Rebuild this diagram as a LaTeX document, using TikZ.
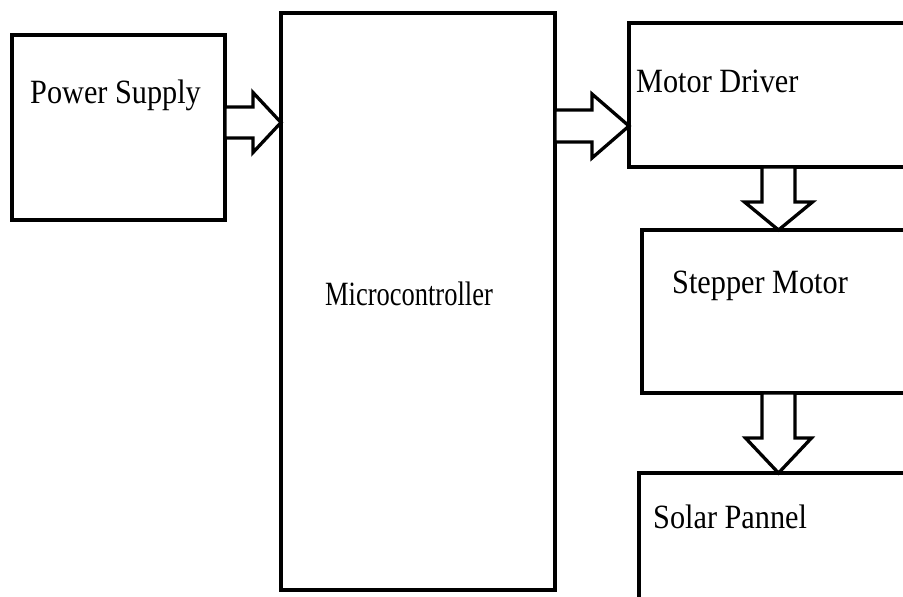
\documentclass[tikz,border=0pt]{standalone}
\usepackage{fontspec}
\setmainfont[FakeStretch=0.89]{Liberation Serif}
\usetikzlibrary{calc}
\begin{document}
\begin{tikzpicture}[x=1pt,y=-1pt,
  blockbox/.style={draw,line width=4pt,rectangle,inner sep=0pt,outer sep=0pt,anchor=north west},
  lbl/.style={anchor=base west,inner sep=0pt,font=\fontsize{34}{40}\selectfont},
  blockarrow/.style={draw,line width=3.3pt,fill=white,line join=miter}]
\clip (0,0) rectangle (903,597);
\fill[white] (0,0) rectangle (903,597);
% boxes
\node[blockbox,minimum width=213pt,minimum height=185pt] (ps) at (12,35) {};
\node[blockbox,minimum width=274pt,minimum height=577pt] (mc) at (281,13) {};
\node[blockbox,minimum width=300pt,minimum height=144pt] (md) at (629,23) {};
\node[blockbox,minimum width=300pt,minimum height=163pt] (sm) at (642,230) {};
\node[blockbox,minimum width=300pt,minimum height=160pt] (sp) at (639,473) {};
% labels
\node[lbl] (tps) at (30,103) {Power Supply};
\node[lbl,xscale=0.875] (tmc) at (325,305) {Microcontroller};
\node[lbl] (tmd) at (636,92) {Motor Driver};
\node[lbl] (tsm) at (672,293) {Stepper Motor};
\node[lbl] (tsp) at (653,528) {Solar Pannel};
% arrow anchor points
\coordinate (a1s) at (ps.east |- 0,122.5);
\coordinate (a1t) at (mc.west |- 0,122.5);
\coordinate (a2s) at (mc.east |- 0,126);
\coordinate (a2t) at (md.west |- 0,126);
\coordinate (a3s) at (778.5,0 |- md.south);
\coordinate (a3t) at (778.5,0 |- sm.north);
\coordinate (a4s) at (778.5,0 |- sm.south);
\coordinate (a4t) at (778.5,0 |- sp.north);
% arrows
\draw[blockarrow] (a1s) ++(0,-15.5) -- ++(28,0) -- ++(0,-14.5) -- (a1t)
  -- ($(a1t)+(-28,30)$) -- ++(0,-14.5) -- ++(-28,0) -- cycle;
\draw[blockarrow] (a2s) ++(0,-16) -- ++(37,0) -- ++(0,-16) -- (a2t)
  -- ($(a2t)+(-37,32)$) -- ++(0,-16) -- ++(-37,0) -- cycle;
\draw[blockarrow] (a3s) ++(-16.5,0) -- ++(0,35) -- ++(-17.5,0) -- (a3t)
  -- ($(a3t)+(34,-28)$) -- ++(-17.5,0) -- ++(0,-35) -- cycle;
\draw[blockarrow] (a4s) ++(-16.5,0) -- ++(0,45) -- ++(-16.5,0) -- (a4t)
  -- ($(a4t)+(33,-35)$) -- ++(-16.5,0) -- ++(0,-45) -- cycle;
\end{tikzpicture}
\end{document}
